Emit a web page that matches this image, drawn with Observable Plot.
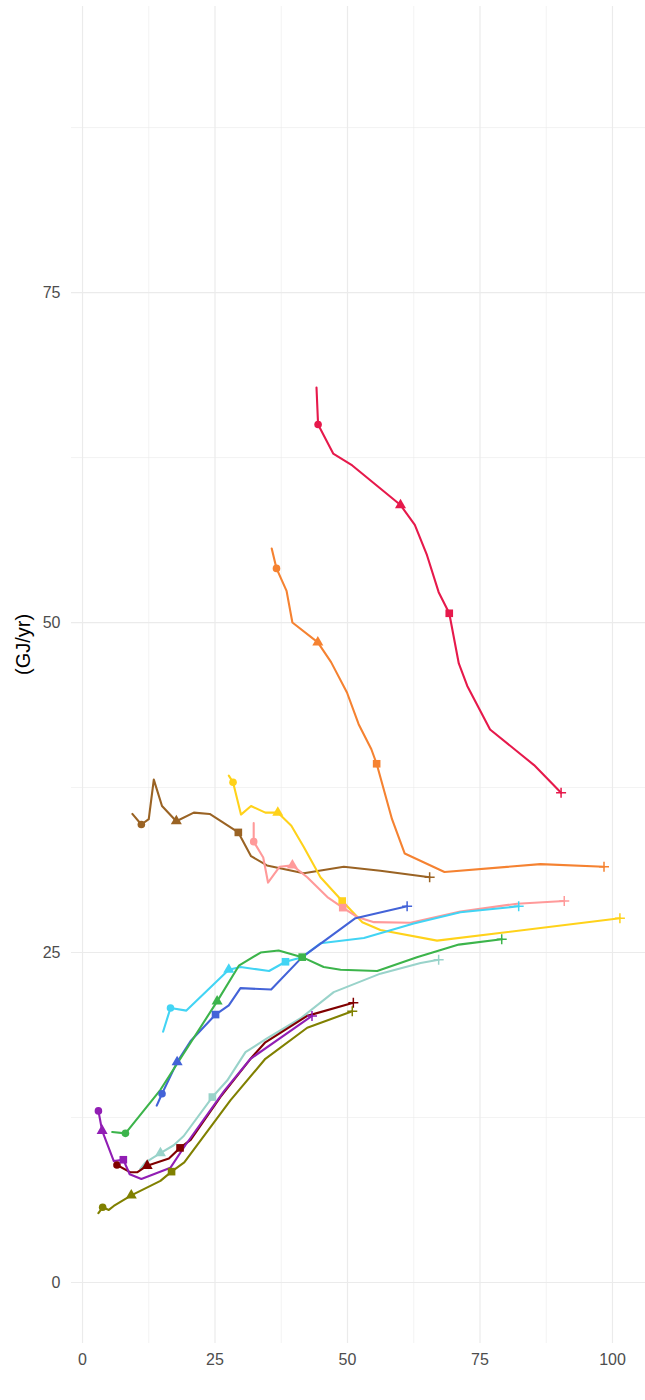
<!DOCTYPE html>
<html><head><meta charset="utf-8">
<script src="https://cdn.jsdelivr.net/npm/d3@7"></script>
<script src="https://cdn.jsdelivr.net/npm/@observablehq/plot@0.6"></script>
<style>body{margin:0;background:#fff;}</style>
</head><body><div id="chart"></div>
<script>
// Each point: [x, y, marker] ; marker c=circle, t=triangle, s=square, p=plus
const s01 = [[44.15,67.8],[44.45,65.0,"c"],[47.3,62.8],[50.9,61.9],[60.0,58.9,"t"],[62.7,57.4],[65.0,55.1],[67.2,52.3],[69.2,50.7,"s"],[71.0,46.9],[72.6,45.2],[76.9,41.9],[85.2,39.2],[90.3,37.1,"p"]];
const s02 = [[35.7,55.6],[36.6,54.1,"c"],[38.5,52.4],[39.6,50.0],[44.4,48.5,"t"],[46.9,47.0],[49.9,44.7],[52.1,42.3],[54.5,40.4],[55.5,39.3,"s"],[58.4,35.1],[60.8,32.5],[68.3,31.1],[86.4,31.7],[98.4,31.5,"p"]];
const s03 = [[9.4,35.5],[11.1,34.7,"c"],[12.5,35.1],[13.45,38.1],[15.0,36.1],[17.7,34.95,"t"],[21.0,35.6],[24.0,35.5],[29.4,34.1,"s"],[31.8,32.3],[34.8,31.6],[41.75,31.0],[49.3,31.5],[56.2,31.2],[65.5,30.7,"p"]];
const s04 = [[27.6,38.4],[28.4,37.9,"c"],[29.9,35.45],[31.8,36.1],[34.5,35.6],[36.85,35.6,"t"],[39.4,34.6],[41.75,33.0],[44.9,30.7],[49.0,28.9,"s"],[52.8,27.3],[56.2,26.7],[66.9,25.9],[101.4,27.6,"p"]];
const s05 = [[32.3,34.8],[32.3,33.4,"c"],[34.1,32.2],[35.0,30.3],[37.2,31.5],[39.6,31.6,"t"],[42.4,30.7],[46.2,29.2],[49.1,28.4,"s"],[51.8,27.7],[55.0,27.3],[61.9,27.25],[71.3,28.1],[82.0,28.7],[90.9,28.9,"p"]];
const s06 = [[15.2,19.0],[16.6,20.8,"c"],[19.6,20.6],[27.6,23.7,"t"],[29.8,23.9],[35.2,23.6],[38.3,24.3,"s"],[41.45,24.65],[44.9,25.7],[53.1,26.1],[62.5,27.2],[71.3,28.05],[82.3,28.5,"p"]];
const s07 = [[14.0,13.4],[15.0,14.3,"c"],[17.85,16.7,"t"],[20.4,18.3],[25.1,20.3,"s"],[27.6,21.0],[29.8,22.3],[35.6,22.2],[41.45,24.65],[51.5,27.6],[61.25,28.5,"p"]];
const s08 = [[5.6,11.4],[8.1,11.3,"c"],[14.7,14.6],[25.4,21.3,"t"],[29.5,24.0],[33.6,25.0],[37.0,25.15],[41.45,24.65,"s"],[45.5,23.9],[48.7,23.7],[55.6,23.6],[63.1,24.65],[71.0,25.6],[79.1,26.0,"p"]];
const s09 = [[10.9,8.6],[11.9,9.1],[14.7,9.8,"t"],[17.2,10.4],[19.1,11.1],[24.5,14.05,"s"],[27.3,15.3],[30.75,17.45],[34.8,18.5],[41.1,20.0],[47.4,22.0],[56.2,23.4],[63.8,24.2],[67.2,24.45,"p"]];
const s10 = [[6.5,8.9,"c"],[9.05,8.35],[10.3,8.35],[12.2,8.85,"t"],[16.3,9.4],[18.4,10.2,"s"],[20.4,10.8],[26.0,14.05],[31.7,16.95],[34.5,18.2],[42.4,20.2],[51.1,21.2,"p"]];
const s11 = [[3.0,13.0,"c"],[3.7,11.5,"t"],[5.9,9.2],[7.7,9.3,"s"],[8.9,8.2],[11.1,7.85],[16.6,8.7],[19.4,10.4],[26.7,14.5],[31.7,16.95],[43.3,20.2,"p"]];
const s12 = [[3.0,5.25],[3.8,5.7,"c"],[4.96,5.5],[5.9,5.8],[9.2,6.6,"t"],[14.7,7.7],[16.8,8.4,"s"],[19.2,9.1],[27.9,13.8],[34.5,16.95],[42.4,19.3],[50.9,20.55,"p"]];

const seriesNames = ["S01","S02","S03","S04","S05","S06","S07","S08","S09","S10","S11","S12"];
const seriesColors = ["#E6194B","#F58231","#9A6324","#FFD21A","#FF9A9A","#42D4F4","#4363D8","#3CB44B","#99D3CA","#800000","#911EB4","#808000"];
const seriesData = [s01, s02, s03, s04, s05, s06, s07, s08, s09, s10, s11, s12];

const xTicks = [0,25,50,75,100];
const yTicks = [0,25,50,75];
const xMinor = [12.5,37.5,62.5,87.5];
const yMinor = [12.5,37.5,62.5,87.5];
const yLabel = "(GJ/yr)";

const rows = seriesData.flatMap((pts,i) => pts.map(([x,y,m]) => ({s: seriesNames[i], x, y, m})));
const plusSymbol = {draw(ctx, size){ const r = Math.sqrt(size/Math.PI); ctx.moveTo(-r,0); ctx.lineTo(r,0); ctx.moveTo(0,-r); ctx.lineTo(0,r); }};

const chart = Plot.plot({
  width: 645, height: 1400,
  marginLeft: 71, marginRight: 0, marginTop: 6, marginBottom: 57,
  x: {domain: [-2.08, 106.23]},
  y: {domain: [-4.62, 96.67]},
  color: {type: "ordinal", domain: seriesNames, range: seriesColors},
  style: {fontFamily: "'Liberation Sans', Arial, sans-serif", background: "#fff"},
  marks: [
    Plot.ruleY(yMinor, {stroke: "#EBEBEB", strokeWidth: 0.6}),
    Plot.ruleX(xMinor, {stroke: "#EBEBEB", strokeWidth: 0.6}),
    Plot.ruleY(yTicks, {stroke: "#EBEBEB", strokeWidth: 1.2}),
    Plot.ruleX(xTicks, {stroke: "#EBEBEB", strokeWidth: 1.2}),
    Plot.axisX({ticks: xTicks, tickSize: 0, tickPadding: 10, fontSize: 16, fill: "#4D4D4D", label: null}),
    Plot.axisY({ticks: yTicks, tickSize: 0, tickPadding: 11, fontSize: 16, fill: "#4D4D4D", label: null}),
    Plot.text([yLabel], {frameAnchor: "left", rotate: -90, dx: -48, fontSize: 20, fill: "#000", text: d => d}),
    Plot.line(rows, {x: "x", y: "y", z: "s", stroke: "s", strokeWidth: 2.1}),
    Plot.dot(rows.filter(d => d.m === "c"), {x: "x", y: "y", fill: "s", r: 3.8, symbol: "circle"}),
    Plot.dot(rows.filter(d => d.m === "t"), {x: "x", y: "y", fill: "s", r: 4.1, symbol: "triangle"}),
    Plot.dot(rows.filter(d => d.m === "s"), {x: "x", y: "y", fill: "s", r: 4.3, symbol: "square"}),
    Plot.dot(rows.filter(d => d.m === "p"), {x: "x", y: "y", stroke: "s", fill: "none", r: 5, symbol: plusSymbol, strokeWidth: 1.5})
  ]
});
document.getElementById("chart").appendChild(chart);
</script>
</body></html>
